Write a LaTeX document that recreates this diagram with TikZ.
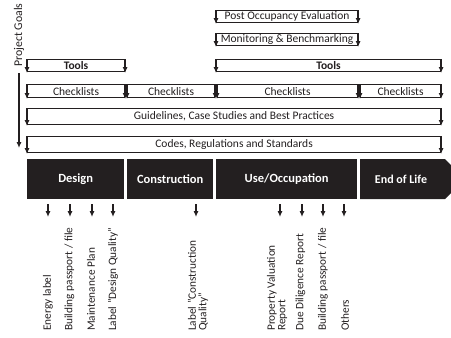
\documentclass[tikz,border=0pt]{standalone}
\usepackage{fontspec}
\setmainfont{Carlito}
\usetikzlibrary{arrows.meta}
\definecolor{ink}{HTML}{231F20}
\tikzset{
  bar/.style={draw=ink, line width=1.1pt, anchor=north west, inner sep=0pt,
    font=\fontsize{11.5}{12}\selectfont, text=ink},
  edgearr/.style={draw=ink, line width=1.1pt, -{Latex[length=6pt,width=5pt]}},
  phase/.style={fill=ink, draw=none, anchor=north west, inner sep=0pt,
    minimum height=40pt, text=white, font=\fontsize{12.5}{13}\selectfont\bfseries},
  vlab/.style={rotate=90, anchor=west, align=left, inner sep=0pt, text=ink,
    font=\fontsize{11.3}{10.5}\selectfont},
}
\newcommand{\barbox}[6]{% name, x, y, w, h, text
  \node[bar, minimum width=#4pt, minimum height=#5pt] (#1) at (#2,#3) {#6};
  \draw[edgearr] (#1.north west) -- ([yshift=-1pt]#1.south west);
  \draw[edgearr] (#1.north east) -- ([yshift=-1pt]#1.south east);
}
\begin{document}
\begin{tikzpicture}[x=1pt,y=-1pt]
\useasboundingbox (0,0) rectangle (451,338);
\clip (0,0) rectangle (451,338);
% top rows
\barbox{poe}{216}{10}{141}{12}{Post Occupancy Evaluation}
\barbox{mon}{216}{33}{141}{12}{Monitoring \& Benchmarking}
\barbox{toolsL}{27}{59}{97}{12}{\textbf{Tools}}
\barbox{toolsR}{216}{59}{224}{12}{\textbf{Tools}}
\barbox{chk1}{27}{84}{97}{13}{Checklists}
\barbox{chk2}{127}{84}{87}{13}{Checklists}
\barbox{chk3}{217}{84}{140}{13}{Checklists}
\barbox{chk4}{360}{84}{80}{13}{Checklists}
\barbox{guide}{27}{108}{413}{16}{Guidelines, Case Studies and Best Practices}
\barbox{codes}{27}{136}{413}{16}{Codes, Regulations and Standards}
% project goals
\node[vlab, font=\fontsize{11.8}{12}\selectfont] (pg) at (19,67) {Project Goals};
\coordinate (pgend) at (19,148);
\draw[edgearr] ([yshift=-6pt]pg.west) -- (pgend);
% phases
\node[phase, minimum width=97pt] (design) at (27,159) {Design};
\node[phase, minimum width=86pt] (constr) at (127,159) {Construction};
\node[phase, minimum width=141pt] (use) at (216,159) {Use/Occupation};
\fill[ink] (360,159) -- (445,159) -- (465,179) -- (445,199) -- (360,199) -- cycle;
\node[text=white, font=\fontsize{12}{13}\selectfont\bfseries] (eol) at (401,179) {End of Life};
% labels
\node[vlab] (l1) at (48,331) {Energy label};
\node[vlab] (l2) at (69.5,331) {Building passport / file};
\node[vlab] (l3) at (91,331) {Maintenance Plan};
\node[vlab] (l4) at (113,331) {Label "Design Quality"};
\node[vlab] (l5) at (198,331) {Label "Construction\\Quality"};
\node[vlab] (l6) at (277,331) {Property Valuation\\Report};
\node[vlab] (l7) at (300.5,331) {Due Diligence Report};
\node[vlab] (l8) at (323,331) {Building passport / file};
\node[vlab] (l9) at (345,331) {Others};
% arrows below phases
\foreach \n/\x in {1/48,2/70,3/92,4/113,5/196,6/280,7/302,8/323,9/344}{
  \coordinate (s\n) at (\x,204);
  \coordinate (e\n) at (\x,217);
  \draw[edgearr] (s\n) -- (e\n);
}
\end{tikzpicture}
\end{document}
